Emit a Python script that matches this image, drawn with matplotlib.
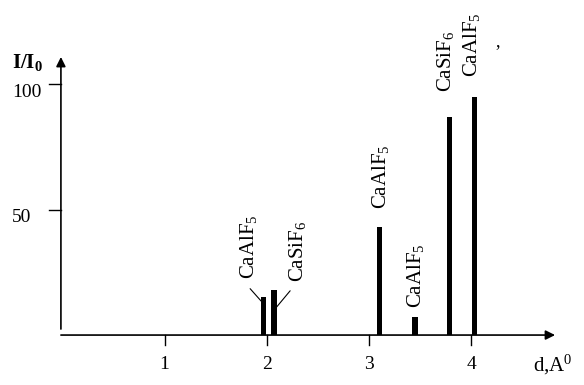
"""
XRD-style stick diagram: relative intensity I/I0 against d-spacing.
"""
import matplotlib
matplotlib.use('Agg')
import matplotlib.pyplot as plt

plt.rcParams['font.family'] = ['Liberation Serif', 'DejaVu Serif']
plt.rcParams['mathtext.fontset'] = 'custom'
plt.rcParams['mathtext.rm'] = 'Liberation Serif'
plt.rcParams['mathtext.it'] = 'Liberation Serif'
plt.rcParams['mathtext.bf'] = 'Liberation Serif:bold'

# peaks
d_spacing = [1.97, 2.07, 3.10, 3.45, 3.79, 4.03]
intensity = [15, 18, 43, 7, 87, 95]
phases = ['CaAlF$_5$', 'CaSiF$_6$', 'CaAlF$_5$', 'CaAlF$_5$', 'CaSiF$_6$', 'CaAlF$_5$']

x_ticks = [1, 2, 3, 4]
y_ticks = [50, 100]

# label offsets from each bar top, in points (dx, dy)
label_offsets = [(-11, 13), (17, 6), (1, 13), (0, 7), (-3, 18), (-2, 14)]
# leader lines for the two crowded peaks: (bar index, anchor dx, anchor dy, text dx, text dy)
leaders = [(0, -0.025, -1.5, -8, 9), (1, 0.022, -7, 10, 12)]

fig = plt.figure(figsize=(5.84, 3.85), dpi=100)
ax = fig.add_axes([0, 0, 1, 1])
ax.set_xlim(-0.611, 5.103)
ax.set_ylim(-19.9, 133.5)
ax.set_axis_off()

ax.bar(d_spacing, intensity, width=0.052, color='black', zorder=3)

# axes drawn by hand with arrow heads
arrow = dict(arrowstyle='-|>', color='black', lw=1.2, mutation_scale=14, shrinkA=0, shrinkB=0)
ax.annotate('', xy=(4.82, 0), xytext=(-0.015, 0), arrowprops=arrow)
ax.annotate('', xy=(-0.015, 110.8), xytext=(-0.015, 2.4), arrowprops=arrow)

for t in x_ticks:
    ax.plot([t, t], [0, -4], color='black', lw=1.0)
    ax.annotate(str(t), xy=(t, 0), xytext=(0, -21), textcoords='offset points',
                ha='center', va='center', fontsize=14)

for t in y_ticks:
    ax.plot([-0.13, -0.015], [t, t], color='black', lw=1.0)
    ax.annotate(str(t), xy=(-0.494, t), xytext=(0, -6), textcoords='offset points',
                ha='left', va='center', fontsize=14)

ax.text(-0.494, 108.6, 'I/I$_\\mathbf{0}$', ha='left', va='center', fontsize=15,
        fontweight='bold')
ax.text(4.6, -11.9, 'd,A$^0$', ha='left', va='center', fontsize=15)

for x, h, name, (dx, dy) in zip(d_spacing, intensity, phases, label_offsets):
    ax.annotate(name, xy=(x, h), xytext=(dx, dy), textcoords='offset points',
                rotation=90, ha='center', va='bottom', fontsize=15)

for i, ax_dx, ax_dy, tx, ty in leaders:
    ax.annotate('', xy=(d_spacing[i] + ax_dx, intensity[i] + ax_dy), xytext=(tx, ty),
                textcoords='offset points',
                arrowprops=dict(arrowstyle='-', color='black', lw=0.8, shrinkA=0, shrinkB=0))

# stray mark from the scan
ax.text(4.26, 112.5, '\u2019', ha='center', va='center', fontsize=13)

fig.savefig('out.png', dpi=100)
